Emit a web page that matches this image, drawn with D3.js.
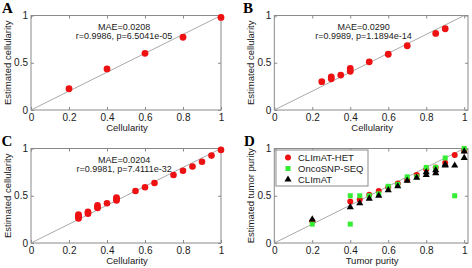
<!DOCTYPE html>
<html>
<head>
<meta charset="utf-8">
<script src="https://cdnjs.cloudflare.com/ajax/libs/d3/7.8.5/d3.min.js"></script>
<style>
    body { margin: 0; background: #fff; }
    svg { display: block; font-family: Arial, "Liberation Sans", Helvetica, sans-serif; }
</style>
</head>
<body>
<div id="chart"></div>
<script>
// panel A
var cellA = [0.2, 0.4, 0.6, 0.8, 1.0];
var estA = [0.225, 0.435, 0.60, 0.77, 0.98];

// panel B
var cellB = [0.25, 0.3, 0.3, 0.35, 0.4, 0.4, 0.5, 0.6, 0.7, 0.85, 0.9];
var estB = [0.30, 0.35, 0.33, 0.37, 0.44, 0.41, 0.51, 0.59, 0.68, 0.81, 0.86];

// panel C
var cellC = [0.25, 0.25, 0.25, 0.25, 0.25, 0.3, 0.3, 0.3, 0.35, 0.35, 0.35, 0.4,
    0.45, 0.45, 0.45, 0.45, 0.55, 0.6, 0.65, 0.75, 0.8, 0.85, 0.9, 0.95, 1.0];
var estC = [0.26, 0.27, 0.28, 0.29, 0.30, 0.31, 0.32, 0.33, 0.37, 0.38, 0.40, 0.42,
    0.45, 0.46, 0.47, 0.48, 0.55, 0.59, 0.635, 0.72, 0.765, 0.81, 0.86, 0.925, 0.985];

// panel D
var purityHet = [0.2, 0.4, 0.45, 0.5, 0.55, 0.6, 0.65, 0.7, 0.75, 0.8, 0.85, 0.9, 0.95, 1.0];
var estHet = [0.23, 0.44, 0.46, 0.51, 0.55, 0.59, 0.63, 0.67, 0.72, 0.78, 0.80, 0.85, 0.93, 0.98];
var purityOnco = [0.2, 0.4, 0.4, 0.45, 0.5, 0.55, 0.6, 0.65, 0.7, 0.75, 0.8, 0.85, 0.9, 0.95, 1.0];
var estOnco = [0.20, 0.50, 0.20, 0.50, 0.50, 0.52, 0.60, 0.62, 0.70, 0.70, 0.80, 0.80, 0.90, 0.50, 1.0];
var purityClimat = [0.2, 0.4, 0.45, 0.5, 0.55, 0.6, 0.65, 0.7, 0.75, 0.8, 0.8, 0.85, 0.85, 0.9, 0.9, 0.95, 1.0, 1.0];
var estClimat = [0.25, 0.38, 0.42, 0.47, 0.50, 0.56, 0.60, 0.66, 0.69, 0.72, 0.75, 0.74, 0.77, 0.82, 0.83, 0.82, 0.90, 0.97];

var xTicks = [0, 0.2, 0.4, 0.6, 0.8, 1];
var yTicks = [0, 0.5, 1];
var legendNames = ['CLImAT-HET', 'OncoSNP-SEQ', 'CLImAT'];

var red = '#ee1111', green = '#33ee33', black = '#000';

var svg = d3.select('#chart').append('svg')
    .attr('width', 472)
    .attr('height', 268);

function drawPanel(p) {
    var x = d3.scaleLinear().domain(p.xDomain).range([p.left, p.right]);
    var y = d3.scaleLinear().domain([0, 1]).range([p.bottom, p.top]);
    var g = svg.append('g');

    // box
    g.append('rect')
        .attr('x', p.left).attr('y', p.top)
        .attr('width', p.right - p.left).attr('height', p.bottom - p.top)
        .attr('fill', 'none').attr('stroke', '#8a8a8a');

    var xAxis = d3.axisBottom(x).tickValues(xTicks).tickSize(-3).tickPadding(4)
        .tickFormat(function(d) { return d === 0 || d === 1 ? d : d3.format('.1f')(d); });
    var yAxis = d3.axisLeft(y).tickValues(yTicks).tickSize(-3).tickPadding(3)
        .tickFormat(function(d) { return d; });

    var xg = g.append('g').attr('transform', 'translate(0,' + p.bottom + ')').call(xAxis);
    var yg = g.append('g').attr('transform', 'translate(' + p.left + ',0)').call(yAxis);
    var tg = g.append('g').attr('transform', 'translate(0,' + p.top + ')')
        .call(d3.axisTop(x).tickValues(xTicks).tickSize(-3).tickFormat(''));
    var rg = g.append('g').attr('transform', 'translate(' + p.right + ',0)')
        .call(d3.axisRight(y).tickValues(yTicks).tickSize(-3).tickFormat(''));

    [xg, yg, tg, rg].forEach(function(a) {
        a.select('.domain').remove();
        a.selectAll('line').attr('stroke', '#8a8a8a');
        a.selectAll('text').attr('fill', '#1a1a1a').attr('font-size', 10)
            .attr('font-family', 'Arial, "Liberation Sans", sans-serif');
    });

    // diagonal
    g.append('line')
        .attr('x1', x(0)).attr('y1', y(0))
        .attr('x2', x(1)).attr('y2', y(1))
        .attr('stroke', '#aaaaaa').attr('stroke-width', 1);

    // axis labels
    g.append('text')
        .attr('x', (p.left + p.right) / 2 + 1)
        .attr('y', p.bottom + 21)
        .attr('text-anchor', 'middle')
        .attr('font-size', 9.5).attr('fill', '#1a1a1a')
        .text(p.xLabel);
    g.append('text')
        .attr('transform', 'translate(' + (p.left - 20) + ',' + ((p.top + p.bottom) / 2) + ') rotate(-90)')
        .attr('text-anchor', 'middle')
        .attr('font-size', 9.5).attr('fill', '#1a1a1a')
        .text(p.yLabel);

    // panel letter
    g.append('text')
        .attr('x', p.letterX).attr('y', p.top - 2.5)
        .attr('font-family', '"Liberation Serif", "Times New Roman", serif')
        .attr('font-weight', 'bold').attr('font-size', 15)
        .attr('fill', '#000')
        .text(p.letter);

    // stats text
    if (p.stats) {
        var st = g.append('text')
            .attr('text-anchor', 'middle')
            .attr('font-size', 9).attr('fill', '#1a1a1a');
        st.append('tspan').attr('x', x(p.statX)).attr('y', p.top + 14).text(p.stats[0]);
        st.append('tspan').attr('x', x(p.statX)).attr('y', p.top + 23.5).text(p.stats[1]);
    }

    return { g: g, x: x, y: y };
}

function dots(panel, xs, ys, r, color) {
    panel.g.append('g').selectAll('circle')
        .data(xs)
        .enter()
        .append('circle')
        .attr('cx', function(d) { return panel.x(d); })
        .attr('cy', function(d, i) { return panel.y(ys[i]); })
        .attr('r', r)
        .attr('fill', color);
}

function squares(panel, xs, ys, s, color) {
    panel.g.append('g').selectAll('rect')
        .data(xs)
        .enter()
        .append('rect')
        .attr('x', function(d) { return panel.x(d) - s / 2; })
        .attr('y', function(d, i) { return panel.y(ys[i]) - s / 2; })
        .attr('width', s).attr('height', s)
        .attr('fill', color);
}

var tri = d3.symbol().type(d3.symbolTriangle).size(22);

function triangles(panel, xs, ys, color) {
    panel.g.append('g').selectAll('path')
        .data(xs)
        .enter()
        .append('path')
        .attr('d', tri)
        .attr('transform', function(d, i) { return 'translate(' + panel.x(d) + ',' + panel.y(ys[i]) + ')'; })
        .attr('fill', color);
}

var pA = drawPanel({ left: 31, right: 221, top: 15.5, bottom: 110, xDomain: [0, 1],
    xLabel: 'Cellularity', yLabel: 'Estimated cellularity', letter: 'A', letterX: 2,
    stats: ['MAE=0.0208', 'r=0.9986, p=6.5041e-05'], statX: 0.49 });
dots(pA, cellA, estA, 3.4, red);

var pB = drawPanel({ left: 274.3, right: 468, top: 15.5, bottom: 110, xDomain: [0, 1.02],
    xLabel: 'Cellularity', yLabel: 'Estimated cellularity', letter: 'B', letterX: 243,
    stats: ['MAE=0.0290', 'r=0.9989, p=1.1894e-14'], statX: 0.47 });
dots(pB, cellB, estB, 3.4, red);

var pC = drawPanel({ left: 31, right: 221, top: 148.5, bottom: 243, xDomain: [0, 1],
    xLabel: 'Cellularity', yLabel: 'Estimated cellularity', letter: 'C', letterX: 1.5,
    stats: ['MAE=0.0204', 'r=0.9981, p=7.4111e-32'], statX: 0.49 });
dots(pC, cellC, estC, 3.3, red);

var pD = drawPanel({ left: 274.3, right: 468, top: 148.5, bottom: 243, xDomain: [0, 1.02],
    xLabel: 'Tumor purity', yLabel: 'Estimated tumor purity', letter: 'D', letterX: 244 });
dots(pD, purityHet, estHet, 3, red);
squares(pD, purityOnco, estOnco, 5, green);
triangles(pD, purityClimat, estClimat, black);

// legend for D
var lg = pD.g.append('g').attr('transform', 'translate(276,150)');
lg.append('rect')
    .attr('width', 92).attr('height', 36)
    .attr('fill', '#fff').attr('stroke', '#8a8a8a');
legendNames.forEach(function(name, i) {
    var cy = 7.5 + i * 11;
    if (i === 0) lg.append('circle').attr('cx', 12).attr('cy', cy).attr('r', 3).attr('fill', red);
    if (i === 1) lg.append('rect').attr('x', 9.5).attr('y', cy - 2.5).attr('width', 5).attr('height', 5).attr('fill', green);
    if (i === 2) lg.append('path').attr('d', tri).attr('transform', 'translate(12,' + cy + ')').attr('fill', black);
    lg.append('text')
        .attr('x', 22).attr('y', cy + 3.5)
        .attr('font-size', 9.5).attr('fill', '#1a1a1a')
        .text(name);
});
</script>
</body>
</html>
